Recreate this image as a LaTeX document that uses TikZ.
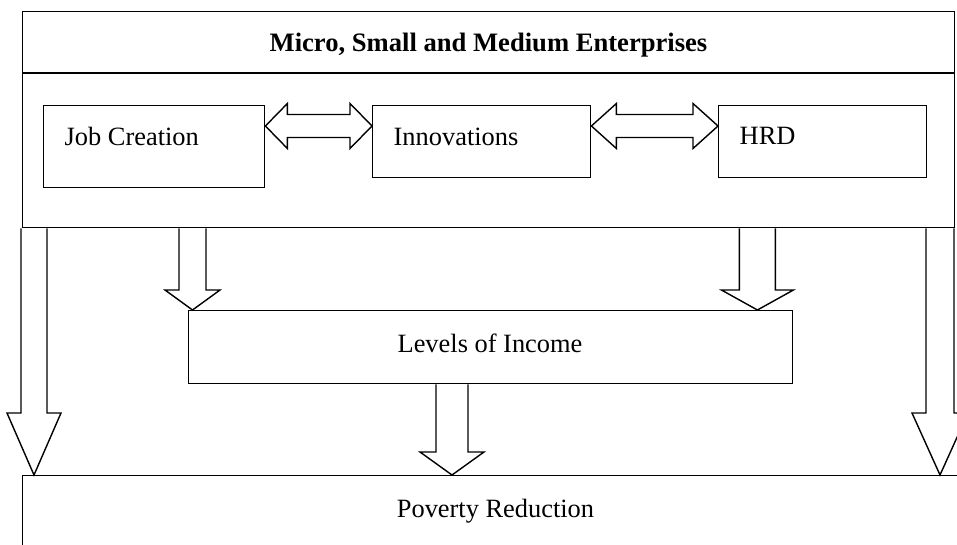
\documentclass[tikz,border=0pt]{standalone}
\usepackage{fontspec}
\setmainfont{Liberation Serif}
\usetikzlibrary{calc}
\newcommand{\dblblock}[3]{\draw[blockarrow] let \p1=(#1), \p2=(#2) in (\x1,\y1) -- (\x1+#3pt,\y1+22.5pt) -- (\x1+#3pt,\y1+11.5pt) -- (\x2-#3pt,\y1+11.5pt) -- (\x2-#3pt,\y1+22.5pt) -- (\x2,\y1) -- (\x2-#3pt,\y1-22.5pt) -- (\x2-#3pt,\y1-11.5pt) -- (\x1+#3pt,\y1-11.5pt) -- (\x1+#3pt,\y1-22.5pt) -- cycle;}
\newcommand{\vblock}[5]{\draw[blockarrow] let \p1=(#1), \p2=(#2) in (\x2-#3pt,\y1) -- (\x2-#3pt,\y2+#5pt) -- (\x2-#4pt,\y2+#5pt) -- (\x2,\y2) -- (\x2+#4pt,\y2+#5pt) -- (\x2+#3pt,\y2+#5pt) -- (\x2+#3pt,\y1);}
\begin{document}
\begin{tikzpicture}[x=1pt,y=-1pt,line width=1.4pt,
    box/.style={draw,inner sep=0pt,anchor=north west},
    lbl/.style={font=\fontsize{26.4}{30}\selectfont,inner sep=0pt},
    blockarrow/.style={draw,line join=miter}]
    \useasboundingbox (0,0) rectangle (957,545);
    \clip (0,0) rectangle (957,545);
    \node[box,minimum width=932pt,minimum height=216pt] (mse) at (22,11) {};
    \draw ($(mse.north west)+(0,62)$) -- ($(mse.north east)+(0,62)$);
    \node[box,minimum width=221pt,minimum height=82pt] (job) at (43,105) {};
    \node[box,minimum width=218pt,minimum height=72pt] (innov) at (372,105) {};
    \node[box,minimum width=208pt,minimum height=72pt] (hrd) at (718,105) {};
    \node[box,minimum width=604pt,minimum height=73pt] (income) at (188,310) {};
    \node[box,minimum width=947pt,minimum height=90pt] (poverty) at (22,475) {};
    \node[lbl,font=\fontsize{26.6}{30}\selectfont\bfseries,anchor=base] (title) at (488.5,52) {Micro, Small and Medium Enterprises};
    \node[lbl,anchor=base west] (job-t) at (64,146) {Job Creation};
    \node[lbl,anchor=base west] (innov-t) at (393,146) {Innovations};
    \node[lbl,anchor=base west] (hrd-t) at (739,145) {HRD};
    \node[lbl,anchor=base] (income-t) at (490,352) {Levels of Income};
    \node[lbl,anchor=base] (poverty-t) at (495.5,517) {Poverty Reduction};
    \coordinate (j-r) at ($(job.north east)+(0,21)$);
    \coordinate (i-l) at ($(innov.north west)+(0,21)$);
    \coordinate (i-r) at ($(innov.north east)+(0,21)$);
    \coordinate (h-l) at ($(hrd.north west)+(0,21)$);
    \dblblock{j-r}{i-l}{22}
    \dblblock{i-r}{h-l}{25}
    \coordinate (a1-s) at ($(mse.south west)+(12,0)$);
    \coordinate (a1-e) at ($(poverty.north west)+(12,0)$);
    \coordinate (a2-s) at ($(mse.south west)+(170.5,0)$);
    \coordinate (a2-e) at ($(income.north west)+(4.5,0)$);
    \coordinate (a3-s) at ($(mse.south east)+(-198,0)$);
    \coordinate (a3-e) at ($(income.north east)+(-36,0)$);
    \coordinate (a4-s) at ($(income.south west)+(264,0)$);
    \coordinate (a4-e) at ($(poverty.north west)+(430,0)$);
    \coordinate (a5-s) at ($(mse.south east)+(-14,0)$);
    \coordinate (a5-e) at ($(poverty.north west)+(918,0)$);
    \vblock{a1-s}{a1-e}{13}{27}{62}
    \vblock{a2-s}{a2-e}{13.5}{27.5}{20}
    \vblock{a3-s}{a3-e}{18}{36}{20}
    \vblock{a4-s}{a4-e}{16}{32}{23}
    \vblock{a5-s}{a5-e}{14}{28}{62}
\end{tikzpicture}
\end{document}
